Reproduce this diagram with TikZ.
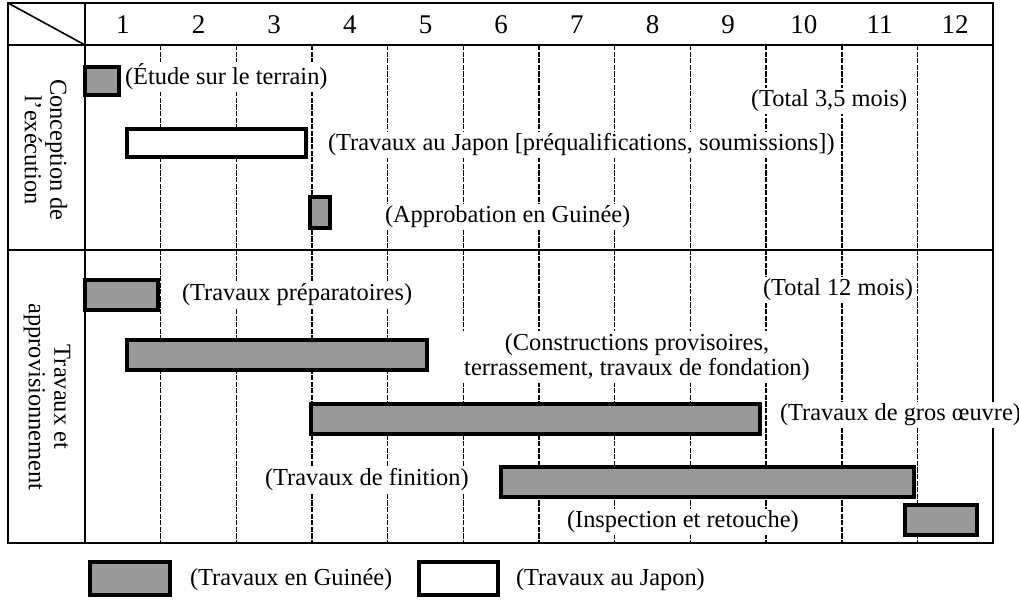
\documentclass[tikz,border=0pt]{standalone}
\usepackage{fontspec}
\setmainfont{Liberation Serif}
\tikzset{
  every node/.style = {
    inner sep = 1pt,
    outer sep = 0pt
  }
}

\begin{document}
\begin{tikzpicture}[
    x=0.5pt, y=-0.5pt,
    frame line/.style={line width=1.1pt},
    grid line/.style={line width=0.8pt, dash pattern=on 2.6pt off 0.7pt},
    guinea bar/.style={draw, line width=2pt, fill=black!40},
    japan bar/.style={draw, line width=2pt, fill=white},
    task/.style={fill=white, anchor=west, font=\fontsize{12.2}{12.5}\selectfont},
    month/.style={font=\fontsize{13.5}{14}\selectfont},
    phase/.style={rotate=-90, align=center, font=\fontsize{12.2}{12.8}\selectfont},
  ]
  \useasboundingbox (0,0) rectangle (1019,600);

  % month columns
  \foreach \i in {1,...,11}
    \draw[grid line] ({85+75.67*\i},45) -- ({85+75.67*\i},543);
  \foreach \i in {1,...,12}
    \node[month] (month-\i) at ({85+75.67*(\i-0.5)},25) {\i};

  % table frame
  \draw[frame line] (8,3) rectangle (993,543);
  \draw[frame line] (8,45) -- (993,45);
  \draw[frame line] (8,250) -- (993,250);
  \draw[frame line] (85,3) -- (85,543);
  \draw[line width=0.8pt] (8,3) -- (85,45);

  % phases
  \node[phase] (phase-design) at (46,150) {Conception de\\l'exécution};
  \node[phase] (phase-works) at (47,397) {Travaux et\\approvisionnement};

  % design phase
  \draw[guinea bar] (85,67) rectangle (119,95);
  \node[task] (etude) at (123,77) {(Étude sur le terrain)};
  \node[task] (total-design) at (749,101) {(Total 3,5 mois)};
  \draw[japan bar] (127,129) rectangle (306,157);
  \node[task] (japon) at (326,145) {(Travaux au Japon [préqualifications, soumissions])};
  \draw[guinea bar] (310,197) rectangle (330,228);
  \node[task] (approbation) at (383,217) {(Approbation en Guinée)};

  % works phase
  \draw[guinea bar] (85,280) rectangle (158,310);
  \node[task] (preparatoires) at (180,295) {(Travaux préparatoires)};
  \node[task] (total-works) at (761,290) {(Total 12 mois)};
  \draw[guinea bar] (127,340) rectangle (427,370);
  \node[task, anchor=center, align=center] (provisoires) at (637,357)
    {(Constructions provisoires,\\terrassement, travaux de fondation)};
  \draw[guinea bar] (311,404) rectangle (760,434);
  \node[task] (gros-oeuvre) at (778,415) {(Travaux de gros œuvre)};
  \draw[guinea bar] (501,467) rectangle (914,497);
  \node[task] (finition) at (263,480) {(Travaux de finition)};
  \draw[guinea bar] (905,505) rectangle (977,535);
  \node[task] (inspection) at (565,522) {(Inspection et retouche)};

  % legend
  \draw[guinea bar] (90,562) rectangle (170,595);
  \node[task] (legend-guinea) at (188,580) {(Travaux en Guinée)};
  \draw[japan bar] (419,562) rectangle (498,595);
  \node[task] (legend-japan) at (514,580) {(Travaux au Japon)};
\end{tikzpicture}
\end{document}
